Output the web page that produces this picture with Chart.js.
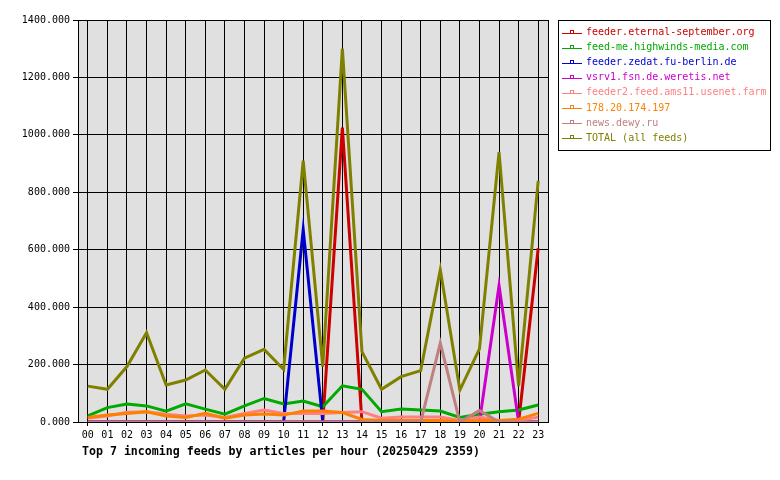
<!DOCTYPE html>
<html>
<head>
<meta charset="utf-8">
<script src="https://cdn.jsdelivr.net/npm/chart.js@4/dist/chart.umd.min.js"></script>
<style>
  html, body { margin: 0; padding: 0; background: #fff; }
  #wrap { width: 780px; height: 480px; }
</style>
</head>
<body>
<div id="wrap"><canvas id="grafica"></canvas></div>
<script>
const hours = ['00','01','02','03','04','05','06','07','08','09','10','11',
               '12','13','14','15','16','17','18','19','20','21','22','23'];

const feedNames = [
  'feeder.eternal-september.org',
  'feed-me.highwinds-media.com',
  'feeder.zedat.fu-berlin.de',
  'vsrv1.fsn.de.weretis.net',
  'feeder2.feed.ams11.usenet.farm',
  '178.20.174.197',
  'news.dewy.ru',
  'TOTAL (all feeds)'
];
const feedColors = ['#cc0000', '#00aa00', '#0000cc', '#cc00cc', '#ff8080', '#ff8000', '#c08080', '#808000'];

const eternalSeptember = [0,0,0,0,0,0,0,0,0,0,0,0, 0,1025,0,0,0,0,0,0,0,0,0,605];
const highwinds        = [21,50,63,56,38,63,45,27,56,82,63,73, 53,126,114,36,45,42,38,16,27,36,42,59];
const zedat            = [0,0,0,0,0,0,0,0,0,0,0,670, 0,0,0,0,0,0,0,0,0,0,0,0];
const weretis          = [0,0,0,0,0,0,0,0,0,0,0,0, 0,0,0,0,0,0,0,0,0,475,0,0];
const usenetFarm       = [14,21,34,36,27,21,24,16,30,42,30,30, 30,33,36,13,17,17,17,5,17,5,5,17];
const ip178            = [16,24,30,36,21,16,30,13,24,28,24,38, 38,33,9,5,5,5,5,3,5,5,10,30];
const dewy             = [0,0,0,0,0,0,0,0,0,0,0,0, 0,0,0,0,0,0,275,0,40,0,0,0];
const total            = [125,114,193,311,129,146,181,114,222,253,183,910, 193,1300,245,114,158,179,530,111,255,940,125,840];

const series = [eternalSeptember, highwinds, zedat, weretis, usenetFarm, ip178, dewy, total];

const yMax = 1400;
const yStep = 200;
const chartTitle = 'Top 7 incoming feeds by articles per hour (20250429 2359)';

const mono = '"DejaVu Sans Mono", "Liberation Mono", monospace';

const fondo = {
  id: 'fondo',
  beforeDraw(chart) {
    const { ctx, chartArea: a } = chart;
    ctx.save();
    ctx.fillStyle = '#e0e0e0';
    ctx.fillRect(a.left, a.top, a.right - a.left, a.bottom - a.top);
    ctx.restore();
  },
  afterDraw(chart) {
    const { ctx, chartArea: a } = chart;
    ctx.save();
    ctx.strokeStyle = '#000';
    ctx.lineWidth = 1;
    ctx.strokeRect(Math.round(a.left) + 0.5, Math.round(a.top) + 0.5,
                   Math.round(a.right - a.left), Math.round(a.bottom - a.top));

    // titulo abajo
    ctx.fillStyle = '#000';
    ctx.font = 'bold 11.6px ' + mono;
    ctx.textBaseline = 'middle';
    ctx.textAlign = 'left';
    ctx.fillText(chartTitle, 82, 452);

    // leyenda
    const bx = 558, by = 20, bw = 212, bh = 130;
    ctx.fillStyle = '#fff';
    ctx.fillRect(bx, by, bw, bh);
    ctx.strokeRect(bx + 0.5, by + 0.5, bw, bh);
    ctx.font = '10px ' + mono;
    feedNames.forEach((name, i) => {
      const y = 32.5 + i * 15.1;
      ctx.strokeStyle = feedColors[i];
      ctx.lineWidth = 1;
      ctx.beginPath();
      ctx.moveTo(562, Math.round(y) + 0.5);
      ctx.lineTo(582, Math.round(y) + 0.5);
      ctx.stroke();
      ctx.strokeRect(570.5, Math.round(y) - 2.5, 3, 3);
      ctx.fillStyle = feedColors[i];
      ctx.fillText(name, 586, y);
    });
    ctx.restore();
  }
};

const ctx = document.getElementById('grafica').getContext('2d');

new Chart(ctx, {
  type: 'line',
  data: {
    labels: hours,
    datasets: series.map((data, i) => ({
      label: feedNames[i],
      data: data,
      borderColor: feedColors[i],
      backgroundColor: feedColors[i],
      borderWidth: 3,
      pointRadius: 0,
      tension: 0,
      order: series.length - i
    }))
  },
  options: {
    responsive: true,
    maintainAspectRatio: false,
    animation: false,
    events: [],
    layout: { padding: { left: 0, right: 232, top: 20, bottom: 34 } },
    plugins: {
      legend: { display: false },
      tooltip: { enabled: false }
    },
    scales: {
      x: {
        offset: true,
        grid: { color: '#000', lineWidth: 1, drawTicks: true, tickLength: 4 },
        border: { color: '#000' },
        ticks: { color: '#000', font: { family: mono, size: 10 }, padding: 3, maxRotation: 0, autoSkip: false },
        afterFit(scale) { scale.height = 24; }
      },
      y: {
        min: 0,
        max: yMax,
        grid: { color: '#000', lineWidth: 1, tickLength: 5 },
        border: { color: '#000' },
        ticks: {
          stepSize: yStep,
          color: '#000',
          font: { family: mono, size: 10 },
          padding: 3,
          callback: v => v.toFixed(3)
        },
        afterFit(scale) { scale.width = 78; }
      }
    }
  },
  plugins: [fondo]
});
</script>
</body>
</html>
